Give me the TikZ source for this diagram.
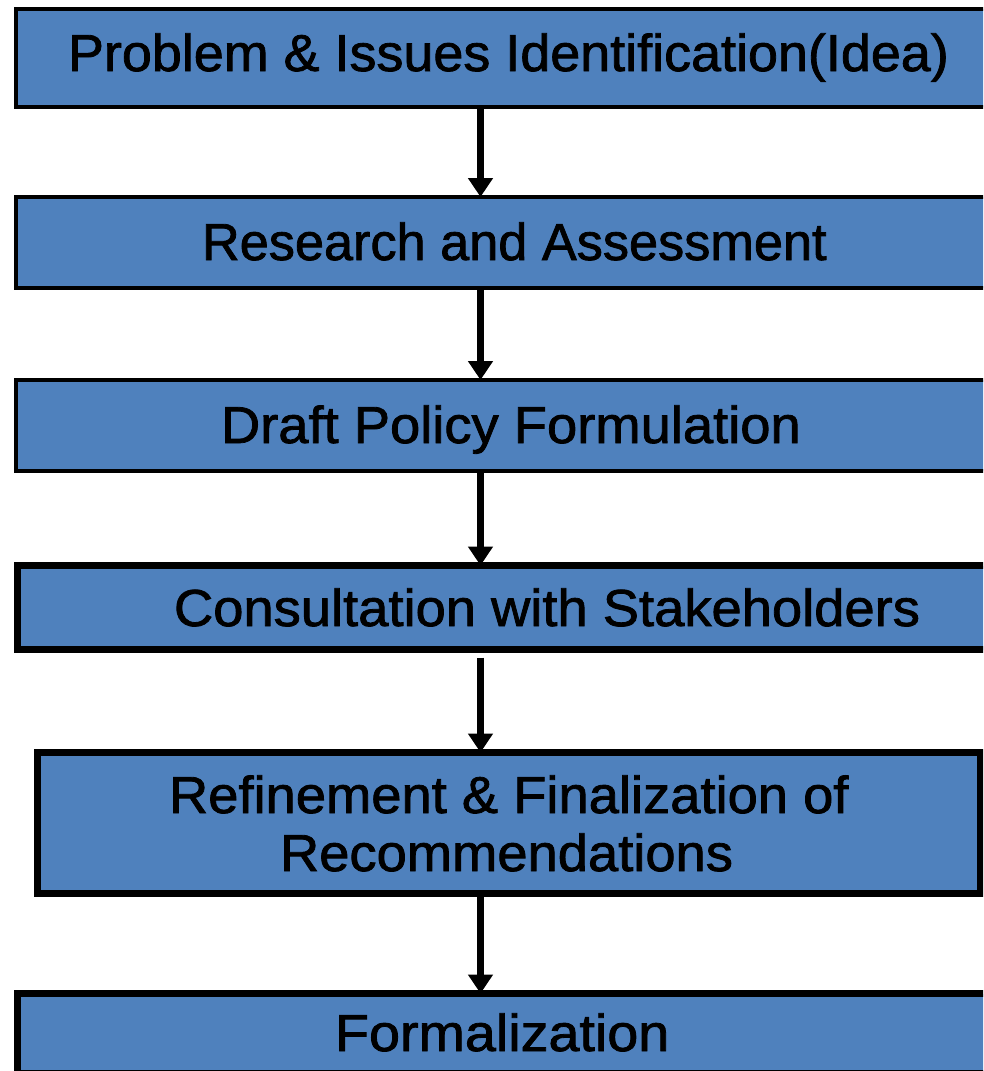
\documentclass[tikz,border=0pt]{standalone}
\usepackage{fontspec}
\setmainfont{Liberation Sans}[FakeStretch=1.045,FakeBold=1.5]
\usetikzlibrary{arrows.meta}
\definecolor{boxblue}{RGB}{79,129,189}
\begin{document}
\begin{tikzpicture}[x=1pt,y=-1pt,
  box/.style={draw=black, fill=boxblue, rectangle, inner sep=0pt, outer sep=0pt, anchor=north west},
  thinbox/.style={box, line width=4pt},
  thickbox/.style={box, line width=7pt},
  lbl/.style={anchor=base west, inner sep=0pt, outer sep=0pt, font=\fontsize{52}{60}\selectfont, text=black},
  flow/.style={draw=black, line width=7pt, -{Triangle[width=24pt 0 1,length=19pt 0 1]}}
]
\useasboundingbox (0,0) rectangle (983,1071);
\clip (0,0) rectangle (983,1071);

% boxes
\node[thinbox, minimum width=990pt, minimum height=98pt] (b1) at (16,9) {};
\node[thinbox, minimum width=990pt, minimum height=91pt] (b2) at (16,197) {};
\node[thinbox, minimum width=990pt, minimum height=91pt] (b3) at (16,380) {};
\node[thickbox, minimum width=990pt, minimum height=84pt] (b4) at (17.5,565.5) {};
\node[thickbox, minimum width=943.5pt, minimum height=141pt] (b5) at (37,752.5) {};
\node[thickbox, minimum width=990pt, minimum height=79.5pt] (b6) at (17.5,993.5) {};

% labels
\node[lbl] (t1) at (68,71) {\scalebox{0.992}[1]{Problem \& Issues Identification(Idea)}};
\node[lbl] (t2) at (202,260) {\scalebox{0.962}[1]{Research and Assessment}};
\node[lbl] (t3) at (221,443) {Draft Policy Formulation};
\node[lbl] (t4) at (174,626) {Consultation with Stakeholders};
\node[lbl] (t5a) at (169,813) {Refinement \& Finalization of};
\node[lbl] (t5b) at (280,871) {Recommendations};
\node[lbl] (t6) at (335,1051) {\scalebox{1.025}[1]{Formalization}};

% connectors
\draw[flow] (b1.south -| 480.5,0) -- (b2.north -| 480.5,0);
\draw[flow] (b2.south -| 480.5,0) -- (b3.north -| 480.5,0);
\draw[flow] (b3.south -| 480.5,0) -- (b4.north -| 480.5,0);
\draw[flow, shorten <=8pt] (b4.south -| 480.5,0) -- (b5.north -| 480.5,0);
\draw[flow] (b5.south -| 480.5,0) -- (b6.north -| 480.5,0);
\end{tikzpicture}
\end{document}
